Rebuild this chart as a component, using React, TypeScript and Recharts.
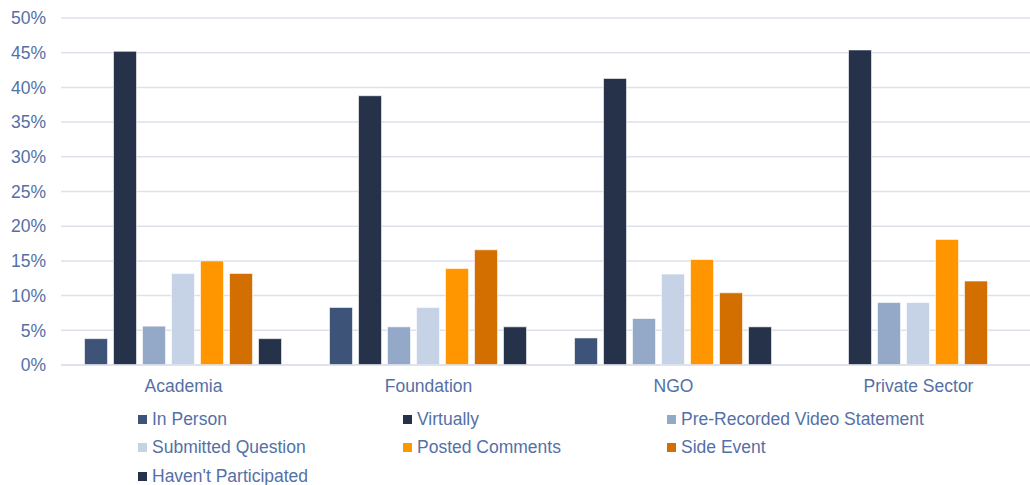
import React from 'react';
import { BarChart, Bar, XAxis, YAxis, CartesianGrid, Legend } from 'recharts';

const categories = ['Academia', 'Foundation', 'NGO', 'Private Sector'];
const inPerson = [3.8, 8.3, 3.9, 0];
const virtually = [45.2, 38.8, 41.3, 45.4];
const preRecorded = [5.6, 5.5, 6.7, 9.0];
const submittedQuestion = [13.2, 8.3, 13.1, 9.0];
const postedComments = [15.0, 13.9, 15.2, 18.1];
const sideEvent = [13.2, 16.6, 10.4, 12.1];
const haventParticipated = [3.8, 5.5, 5.5, 0];
const yTicks = [0, 5, 10, 15, 20, 25, 30, 35, 40, 45, 50];

const series = [
  { key: 'inPerson', name: 'In Person', values: inPerson, color: '#3E5378' },
  { key: 'virtually', name: 'Virtually', values: virtually, color: '#263249' },
  { key: 'preRecorded', name: 'Pre-Recorded Video Statement', values: preRecorded, color: '#94A8C8' },
  { key: 'submitted', name: 'Submitted Question', values: submittedQuestion, color: '#C6D3E6' },
  { key: 'posted', name: 'Posted Comments', values: postedComments, color: '#FF9600' },
  { key: 'side', name: 'Side Event', values: sideEvent, color: '#D26F00' },
  { key: 'havent', name: "Haven't Participated", values: haventParticipated, color: '#263249' },
];

const data = categories.map((c, i) => {
  const row: Record<string, string | number> = { category: c };
  series.forEach((s) => {
    row[s.key] = s.values[i];
  });
  return row;
});

const FONT = '"Liberation Sans", Arial, Helvetica, sans-serif';
const TEXT = '#5470A6';

const legendCols = [138, 403, 667];
const legendRows = [19, 47, 76];

const renderLegend = () => (
  <div style={{ position: 'relative', width: 1030, height: 85, fontFamily: FONT }}>
    {series.map((s, i) => {
      const col = i % 3;
      const row = Math.floor(i / 3);
      return (
        <div
          key={s.key}
          style={{
            position: 'absolute',
            left: legendCols[col],
            top: legendRows[row] - 11,
            height: 22,
            display: 'flex',
            alignItems: 'center',
            whiteSpace: 'nowrap',
          }}
        >
          <span style={{ width: 9, height: 9, background: s.color, display: 'inline-block', marginRight: 5 }} />
          <span style={{ fontSize: 17.5, color: TEXT }}>{s.name}</span>
        </div>
      );
    })}
  </div>
);

export default function App() {
  return (
    <div style={{ position: 'absolute', left: 0, top: 0, width: 1030, height: 485, overflow: 'hidden', background: '#fff' }}>
      <BarChart
        width={1041}
        height={485}
        data={data}
        margin={{ top: 18, right: 0, bottom: 0, left: 0 }}
        barCategoryGap="9.6%"
        barGap={6}
      >
        <CartesianGrid vertical={false} stroke="#DCE1EC" strokeWidth={1.5} />
        <XAxis
          dataKey="category"
          axisLine={{ stroke: '#DCE1EC', strokeWidth: 1.5 }}
          tickLine={false}
          tickSize={0}
          tickMargin={15}
          height={35}
          interval={0}
          tick={{ fill: TEXT, fontSize: 17.5, fontFamily: FONT }}
        />
        <YAxis
          domain={[0, 50]}
          ticks={yTicks}
          tickFormatter={(v: number) => `${v}%`}
          axisLine={false}
          tickLine={false}
          tickSize={0}
          tickMargin={15}
          width={61}
          interval={0}
          tick={{ fill: TEXT, fontSize: 17.5, fontFamily: FONT }}
        />
        <Legend verticalAlign="bottom" height={85} wrapperStyle={{ left: 0, width: 1030 }} content={renderLegend} />
        {series.map((s) => (
          <Bar
            key={s.key}
            dataKey={s.key}
            name={s.name}
            fill={s.color}
            stroke="#FFFFFF"
            strokeOpacity={0.6}
            strokeWidth={1}
            isAnimationActive={false}
          />
        ))}
      </BarChart>
    </div>
  );
}
